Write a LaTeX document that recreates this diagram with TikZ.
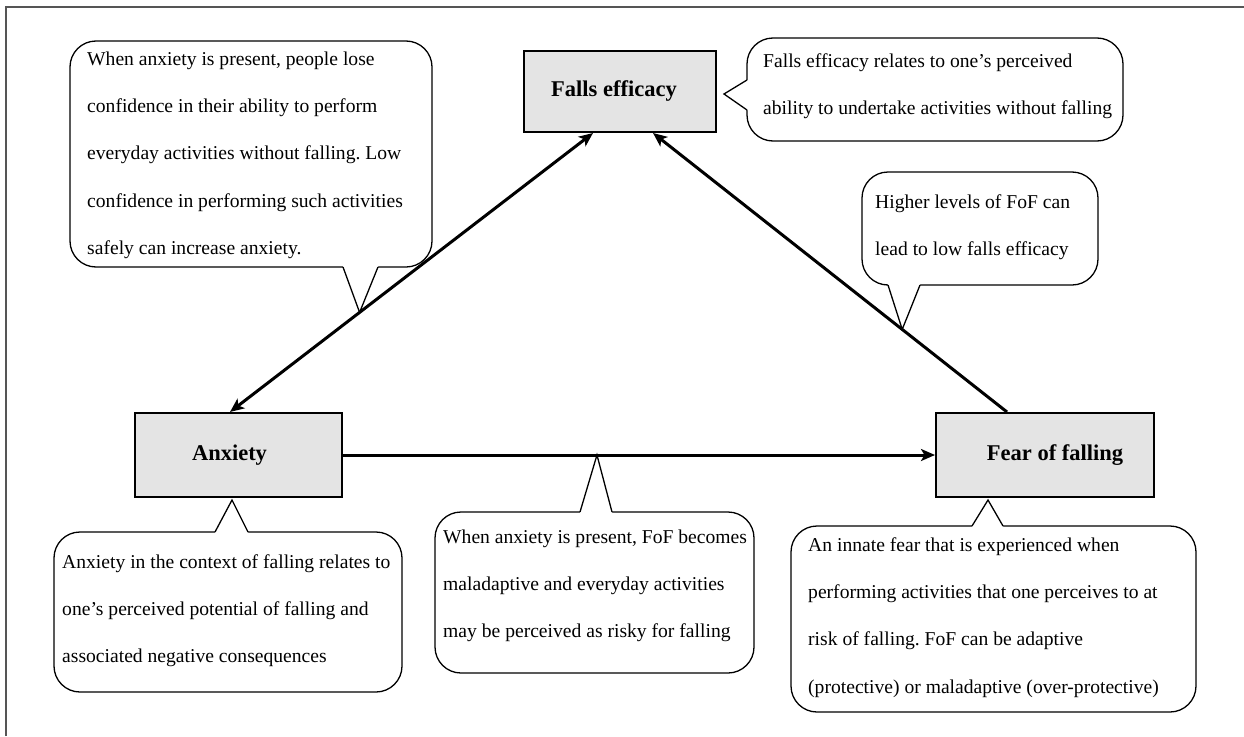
\documentclass[tikz,border=0pt]{standalone}
\usepackage{fontspec}
\setmainfont{Liberation Serif}
\usetikzlibrary{arrows.meta,calc}
\definecolor{boxgray}{HTML}{E4E4E4}
\definecolor{framegray}{HTML}{555555}
\frenchspacing
\begin{document}
\begin{tikzpicture}[x=1pt,y=-1pt,
  >={Stealth[length=14pt,width=12pt,inset=3.5pt]},
  concept/.style={draw=black, line width=2pt, fill=boxgray, inner sep=0pt,
    font=\fontsize{22.5pt}{27pt}\selectfont\bfseries},
  link/.style={line width=3pt},
  callout/.style={draw=black, line width=1.3pt, rounded corners=26pt, fill=white},
  ptr/.style={draw=black, line width=1.3pt, line join=miter},
  ctext/.style={anchor=north west, inner sep=0pt, align=left,
    font=\fontsize{19.6pt}{47.3pt}\selectfont}]
\useasboundingbox (0,0) rectangle (1244,736);
\fill[white] (0,0) rectangle (1244,736);
% frame
\draw[framegray, line width=1.8pt] (6,736) -- (6,7) -- (1244,7);

% concept boxes
\node[concept, minimum width=192pt, minimum height=81pt] (fe) at (620,91.5) {Falls efficacy\hspace*{12pt}};
\node[concept, minimum width=207pt, minimum height=84pt] (anx) at (238.5,455) {Anxiety\hspace*{18pt}};
\node[concept, minimum width=218pt, minimum height=84pt] (fof) at (1045,455) {\hspace*{20pt}Fear of falling};

% connectors
\draw[link, <->] ([xshift=-8.5pt]anx.north) -- ([xshift=-27pt]fe.south) coordinate[pos=0.357] (tipA);
\draw[link, ->] ([xshift=-38pt]fof.north) -- ([xshift=33pt]fe.south) coordinate[pos=0.296] (tipB);
\draw[link, ->] (anx.east) -- (fof.west) coordinate[pos=0.429] (tipC);
\coordinate (tipFE) at ($(fe.east)+(7,2.5)$);
\coordinate (tipAnx) at ($(anx.south)+(-6.5,2)$);
\coordinate (tipFoF) at ($(fof.south)+(-57,2)$);

% callout 1: top-left
\draw[callout] (70,41) rectangle (432,267);
\fill[white] (343,265.5) -- (343,267) -- (tipA) -- (378,267) -- (378,265.5) -- cycle;
\draw[ptr] (343,267) -- (tipA) -- (378,267);
\node[ctext] (c1) at (87,49) {\rule{0pt}{16pt}When anxiety is present, people lose\\
confidence in their ability to perform\\
everyday activities without falling. Low\\
confidence in performing such activities\\
safely can increase anxiety.};

% callout 2: falls efficacy definition
\draw[callout] (747,38) rectangle (1123,141);
\fill[white] (748.5,80) -- (747,80) -- (tipFE) -- (747,110) -- (748.5,110) -- cycle;
\draw[ptr] (747,80) -- (tipFE) -- (747,110);
\node[ctext] (c2) at (763,51) {\rule{0pt}{16pt}Falls efficacy relates to one’s perceived\\
ability to undertake activities without falling};

% callout 3: higher levels
\draw[callout] (862,172) rectangle (1098,285);
\fill[white] (888,283.5) -- (888,285) -- (tipB) -- (920,285) -- (920,283.5) -- cycle;
\draw[ptr] (888,285) -- (tipB) -- (920,285);
\node[ctext] (c3) at (875,192) {\rule{0pt}{16pt}Higher levels of FoF can\\
lead to low falls efficacy};

% callout 4: anxiety definition
\draw[callout] (54,532) rectangle (402,692);
\fill[white] (215,533.5) -- (215,532) -- (tipAnx) -- (248,532) -- (248,533.5) -- cycle;
\draw[ptr] (215,532) -- (tipAnx) -- (248,532);
\node[ctext] (c4) at (62,552) {\rule{0pt}{16pt}Anxiety in the context of falling relates to\\
one’s perceived potential of falling and\\
associated negative consequences};

% callout 5: middle
\draw[callout] (435,512) rectangle (754,673);
\fill[white] (580,513.5) -- (580,512) -- (tipC) -- (612,512) -- (612,513.5) -- cycle;
\draw[ptr] (580,512) -- (tipC) -- (612,512);
\node[ctext] (c5) at (443,527) {\rule{0pt}{16pt}When anxiety is present, FoF becomes\\
maladaptive and everyday activities\\
may be perceived as risky for falling};

% callout 6: fear of falling definition
\draw[callout] (791,526) rectangle (1196,712);
\fill[white] (972,527.5) -- (972,526) -- (tipFoF) -- (1003,526) -- (1003,527.5) -- cycle;
\draw[ptr] (972,526) -- (tipFoF) -- (1003,526);
\node[ctext] (c6) at (808,535) {\rule{0pt}{16pt}An innate fear that is experienced when\\
performing activities that one perceives to at\\
risk of falling. FoF can be adaptive\\
(protective) or maladaptive (over-protective)};
\end{tikzpicture}
\end{document}
